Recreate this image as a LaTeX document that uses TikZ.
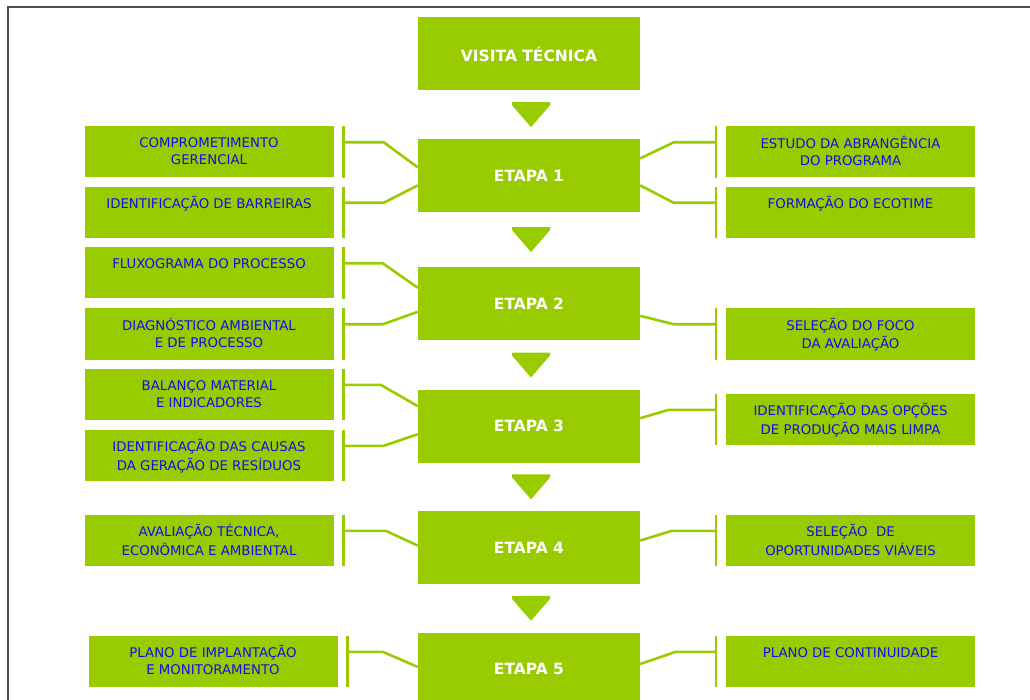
\documentclass[tikz,border=0pt]{standalone}
\usepackage{fontspec}
\setmainfont{DejaVu Sans}
\usetikzlibrary{positioning,calc}

\definecolor{leaf}{RGB}{153,204,0}
\definecolor{ink}{RGB}{15,15,235}
\newcommand{\boxtext}[1]{\parbox[c][32pt][t]{244pt}{\centering\strut #1}}

\tikzset{
  stage/.style={fill=leaf, minimum width=222pt, minimum height=73pt, inner sep=0pt,
    text=white, font=\bfseries\fontsize{15.5}{18}\selectfont},
  task/.style={fill=leaf, minimum width=249pt, minimum height=51pt, inner sep=0pt,
    text=ink, font=\fontsize{13.3}{17}\selectfont},
  link/.style={draw=leaf, line width=2.6pt},
}

\begin{document}
\begin{tikzpicture}[x=1pt, y=-1pt]
  \useasboundingbox (0,0) rectangle (1030,700);
  \draw[gray!60!black, line width=1.3pt] (8,7) rectangle (1050,720); % frame

  % main column
  \node[stage] (visita) at (529,54) {VISITA TÉCNICA};
  \node[stage, below=48pt of visita] (e1) {ETAPA 1};
  \node[stage, below=55pt of e1] (e2) {ETAPA 2};
  \node[stage, below=49pt of e2] (e3) {ETAPA 3};
  \node[stage, below=48pt of e3] (e4) {ETAPA 4};
  \node[stage, below=48pt of e4] (e5) {ETAPA 5};

  \foreach \a/\b in {visita/e1, e1/e2, e2/e3, e3/e4, e4/e5}
    \fill[leaf] ($(\a.south)!0.5!(\b.north)$) ++(-17pt,12.5pt) -- ++(38pt,0)
      -- ++(0,-3pt) -- ++(-19pt,-22pt) -- ++(-19pt,22pt) -- cycle;

  % left column
  \node[task] (comp) at (209,152) {\boxtext{COMPROMETIMENTO\\GERENCIAL}};
  \node[task] (barr) at (209,212.5) {\boxtext{IDENTIFICAÇÃO DE BARREIRAS}};
  \node[task] (fluxo) at (209,273) {\boxtext{FLUXOGRAMA DO PROCESSO}};
  \node[task] (diag) at (209,334) {\boxtext{DIAGNÓSTICO AMBIENTAL\\E DE PROCESSO}};
  \node[task] (balanco) at (209,394.5) {\boxtext{BALANÇO MATERIAL\\E INDICADORES}};
  \node[task] (causas) at (209,455.5) {\boxtext{IDENTIFICAÇÃO DAS CAUSAS\\DA GERAÇÃO DE RESÍDUOS}};
  \node[task] (aval) at (209,540.5) {\boxtext{AVALIAÇÃO TÉCNICA,\\ECONÔMICA E AMBIENTAL}};
  \node[task] (plano) at (213,661.5) {\boxtext{PLANO DE IMPLANTAÇÃO\\E MONITORAMENTO}};

  % right column
  \node[task] (estudo) at (850.5,152) {\boxtext{ESTUDO DA ABRANGÊNCIA\\DO PROGRAMA}};
  \node[task] (ecotime) at (850.5,212.5) {\boxtext{FORMAÇÃO DO ECOTIME}};
  \node[task] (foco) at (850.5,334) {\boxtext{SELEÇÃO DO FOCO\\DA AVALIAÇÃO}};
  \node[task] (opcoes) at (850.5,419.5) {\boxtext{IDENTIFICAÇÃO DAS OPÇÕES\\DE PRODUÇÃO MAIS LIMPA}};
  \node[task] (oport) at (850.5,540.5) {\boxtext{SELEÇÃO~ DE\\OPORTUNIDADES VIÁVEIS}};
  \node[task] (contin) at (850.5,661.5) {\boxtext{PLANO DE CONTINUIDADE}};

  % left brackets
  \foreach \n in {comp, barr, fluxo, diag, balanco, causas, aval, plano}
    \draw[link] ([xshift=10pt]\n.north east) -- ([xshift=10pt]\n.south east);
  \draw[link] ([xshift=10pt,yshift=-16pt]comp.north east) -- ++(40pt,0) -- ([yshift=8pt]e1.west);
  \draw[link] ([xshift=10pt,yshift=-16pt]barr.north east) -- ++(40pt,0) -- ([yshift=-10pt]e1.west);
  \draw[link] ([xshift=10pt,yshift=-16pt]fluxo.north east) -- ++(39pt,0) -- ([yshift=16pt]e2.west);
  \draw[link] ([xshift=10pt,yshift=-16pt]diag.north east) -- ++(39pt,0) -- ([yshift=-8pt]e2.west);
  \draw[link] ([xshift=10pt,yshift=-16pt]balanco.north east) -- ++(37pt,0) -- ([yshift=20pt]e3.west);
  \draw[link] ([xshift=10pt,yshift=-16pt]causas.north east) -- ++(40pt,0) -- ([yshift=-8pt]e3.west);
  \draw[link] ([xshift=10pt,yshift=-16pt]aval.north east) -- ++(42pt,0) -- ([yshift=2pt]e4.west);
  \draw[link] ([xshift=10pt,yshift=-16pt]plano.north east) -- ++(35pt,0) -- ([yshift=2pt]e5.west);

  % right brackets
  \foreach \n in {estudo, ecotime, foco, opcoes, oport, contin}
    \draw[link] ([xshift=-10pt]\n.north west) -- ([xshift=-10pt]\n.south west);
  \draw[link] ([xshift=-10pt,yshift=-16pt]estudo.north west) -- ++(-42pt,0) -- ([yshift=17pt]e1.east);
  \draw[link] ([xshift=-10pt,yshift=-16pt]ecotime.north west) -- ++(-42pt,0) -- ([yshift=-10pt]e1.east);
  \draw[link] ([xshift=-10pt,yshift=-16pt]foco.north west) -- ++(-42pt,0) -- ([yshift=-12pt]e2.east);
  \draw[link] ([xshift=-10pt,yshift=-16pt]opcoes.north west) -- ++(-47pt,0) -- ([yshift=8pt]e3.east);
  \draw[link] ([xshift=-10pt,yshift=-16pt]oport.north west) -- ++(-44pt,0) -- ([yshift=7pt]e4.east);
  \draw[link] ([xshift=-10pt,yshift=-16pt]contin.north west) -- ++(-40pt,0) -- ([yshift=5pt]e5.east);
\end{tikzpicture}
\end{document}
